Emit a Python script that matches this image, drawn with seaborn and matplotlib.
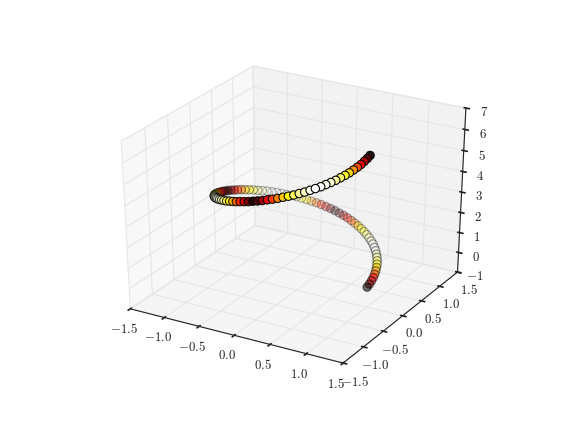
import matplotlib
matplotlib.use("Agg")
import matplotlib.pyplot as plt
import seaborn as sns

x_vals = [1.000,.998,.992,.982,.968,.950,.928,.903,.874,.841,.805,.766,.724,.678,.631,.580,.527,.472,.415,.357,.297,.236,.174,.111,.048,
          -.016,-.079,-.142,-.205,-.266,-.327,-.386,-.444,-.500,-.554,-.605,-.655,-.701,-.745,-.786,-.824,-.858,-.889,-.916,-.940,-.960,-.975,-.987,-.995,-.999,
          -.999,-.995,-.987,-.975,-.960,-.940,-.916,-.889,-.858,-.824,-.786,-.745,-.701,-.655,-.605,-.554,-.500,-.444,-.386,-.327,-.266,-.205,-.142,-.079,-.016,
          .048,.111,.174,.236,.297,.357,.415,.472,.527,.580,.631,.678,.724,.766,.805,.841,.874,.903,.928,.950,.968,.982,.992,.998,1.000]
y_vals = [.000,.063,.127,.189,.251,.312,.372,.430,.486,.541,.593,.643,.690,.735,.776,.815,.850,.881,.910,.934,.955,.972,.985,.994,.999,
          1.000,.997,.990,.979,.964,.945,.922,.896,.866,.833,.796,.756,.713,.667,.618,.567,.514,.458,.401,.342,.282,.220,.158,.095,.032,
          -.032,-.095,-.158,-.220,-.282,-.342,-.401,-.458,-.514,-.567,-.618,-.667,-.713,-.756,-.796,-.833,-.866,-.896,-.922,-.945,-.964,-.979,-.990,-.997,-1.000,
          -.999,-.994,-.985,-.972,-.955,-.934,-.910,-.881,-.850,-.815,-.776,-.735,-.690,-.643,-.593,-.541,-.486,-.430,-.372,-.312,-.251,-.189,-.127,-.063,.000]
z_vals = [0,.06,.13,.19,.25,.32,.38,.44,.51,.57,.63,.70,.76,.83,.89,.95,1.02,1.08,1.14,1.21,1.27,1.33,1.40,1.46,1.52,
          1.59,1.65,1.71,1.78,1.84,1.90,1.97,2.03,2.09,2.16,2.22,2.28,2.35,2.41,2.48,2.54,2.60,2.67,2.73,2.79,2.86,2.92,2.98,3.05,3.11,
          3.17,3.24,3.30,3.36,3.43,3.49,3.55,3.62,3.68,3.75,3.81,3.87,3.94,4.00,4.06,4.13,4.19,4.25,4.32,4.38,4.44,4.51,4.57,4.63,4.70,
          4.76,4.82,4.89,4.95,5.01,5.08,5.14,5.20,5.27,5.33,5.40,5.46,5.52,5.59,5.65,5.71,5.78,5.84,5.90,5.97,6.03,6.09,6.16,6.22,6.28]
c_vals = [0,.127,.251,.372,.486,.593,.690,.776,.850,.910,.955,.985,.999,.997,.979,.945,.896,.833,.756,.667,.567,.458,.342,.220,.095,
          .032,.158,.282,.401,.514,.618,.713,.796,.866,.922,.964,.990,1.0,.994,.972,.934,.881,.815,.735,.643,.541,.430,.312,.189,.063,
          .063,.189,.312,.430,.541,.643,.735,.815,.881,.934,.972,.994,1.0,.990,.964,.922,.866,.796,.713,.618,.514,.401,.282,.158,.032,
          .095,.220,.342,.458,.567,.667,.756,.833,.896,.945,.979,.997,.999,.985,.955,.910,.850,.776,.690,.593,.486,.372,.251,.127,0]
xy_ticks = [-1.5,-1.0,-0.5,0.0,0.5,1.0,1.5]
z_ticks = [-1,0,1,2,3,4,5,6,7]

sns.set_theme(style="white")
plt.rcParams["mathtext.fontset"] = "cm"
plt.rcParams["font.family"] = ["cmr10", "DejaVu Serif"]
plt.rcParams["axes.linewidth"] = 0.8

fig = plt.figure(figsize=(5.67, 4.28), dpi=100)
ax = fig.add_subplot(111, projection="3d")
ax.set_box_aspect((1, 1, 1), zoom=0.94)
pos = [0.125, 0.10, 0.775, 0.80]
ax.set_position(pos)
# stretch the 3D box to fill the whole axes rectangle, as the old mplot3d did
ax.apply_aspect = lambda position=None: ax._set_position(pos, "active")
hot = sns.color_palette("hot", as_cmap=True)
ax.scatter(x_vals, y_vals, z_vals, c=c_vals, cmap=hot, s=36, edgecolors="black", linewidths=0.8, depthshade=True)

ax.set_xlim(-1.5, 1.5); ax.set_ylim(-1.5, 1.5); ax.set_zlim(-1, 7)
ax.set_xticks(xy_ticks); ax.set_yticks(xy_ticks); ax.set_zticks(z_ticks)
ax.set_xticklabels([f"${t:.1f}$" for t in xy_ticks])
ax.set_yticklabels([f"${t:.1f}$" for t in xy_ticks])
ax.set_zticklabels([f"${t}$" for t in z_ticks])
ax.tick_params(labelsize=9.3, pad=0, colors="#222222")
for a in (ax.xaxis, ax.yaxis, ax.zaxis):
    a.line.set_color("#222222")
    a.line.set_linewidth(0.8)
    a._axinfo["grid"].update(color="#e6e6e6", linewidth=0.8)
    a._axinfo["tick"].update(inward_factor=0.2, outward_factor=0.1)
ax.xaxis.set_pane_color((0.95, 0.95, 0.95, 0.5))
ax.yaxis.set_pane_color((0.90, 0.90, 0.90, 0.5))
ax.zaxis.set_pane_color((0.925, 0.925, 0.925, 0.5))
fig.savefig("out.png", dpi=100)
